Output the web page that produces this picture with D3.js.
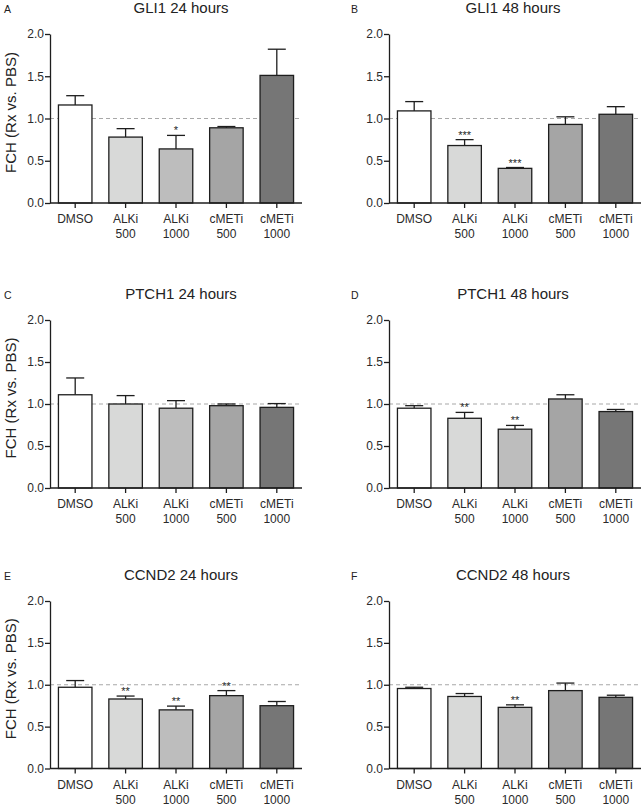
<!DOCTYPE html>
<html>
<head>
<meta charset="utf-8">
<script src="https://cdn.jsdelivr.net/npm/d3@7"></script>
<style>
  html, body { margin: 0; padding: 0; background: #ffffff; }
  svg { display: block; font-family: "Liberation Sans", Arial, sans-serif; }
</style>
</head>
<body>
<svg id="chart" width="642" height="805"></svg>
<script>
// ---------- DATA ----------
const categories = ["DMSO", "ALKi 500", "ALKi 1000", "cMETi 500", "cMETi 1000"];
const catLine1 = ["DMSO", "ALKi", "ALKi", "cMETi", "cMETi"];
const catLine2 = ["", "500", "1000", "500", "1000"];
const yTicks = [0, 0.5, 1.0, 1.5, 2.0];
const panelLetters = ["A", "B", "C", "D", "E", "F"];
const panelTitles = ["GLI1 24 hours", "GLI1 48 hours", "PTCH1 24 hours", "PTCH1 48 hours", "CCND2 24 hours", "CCND2 48 hours"];
const yLabel = "FCH (Rx vs. PBS)";

const gli1_24_mean  = [1.16, 0.78, 0.64, 0.89, 1.51];
const gli1_24_sem   = [0.11, 0.10, 0.16, 0.015, 0.31];
const gli1_24_sig   = ["", "", "*", "", ""];
const gli1_48_mean  = [1.09, 0.68, 0.41, 0.93, 1.05];
const gli1_48_sem   = [0.11, 0.07, 0.01, 0.09, 0.09];
const gli1_48_sig   = ["", "***", "***", "", ""];
const ptch1_24_mean = [1.11, 1.00, 0.95, 0.98, 0.96];
const ptch1_24_sem  = [0.20, 0.10, 0.09, 0.02, 0.045];
const ptch1_24_sig  = ["", "", "", "", ""];
const ptch1_48_mean = [0.95, 0.83, 0.70, 1.06, 0.91];
const ptch1_48_sem  = [0.03, 0.07, 0.045, 0.05, 0.025];
const ptch1_48_sig  = ["", "**", "**", "", ""];
const ccnd2_24_mean = [0.97, 0.83, 0.70, 0.87, 0.75];
const ccnd2_24_sem  = [0.08, 0.035, 0.045, 0.06, 0.05];
const ccnd2_24_sig  = ["", "**", "**", "**", ""];
const ccnd2_48_mean = [0.955, 0.86, 0.73, 0.93, 0.85];
const ccnd2_48_sem  = [0.015, 0.035, 0.03, 0.09, 0.025];
const ccnd2_48_sig  = ["", "", "**", "", ""];
const referenceLevel = 1.0;

// ---------- STYLE / LAYOUT ----------
const barFills = ["#ffffff", "#d8d9d8", "#bdbdbd", "#a5a5a5", "#767676"];
const ink = "#1e1e1e";
const colX = [[50, 302], [389, 641]];
const rowY = [[34, 203], [320, 488], [601, 768.5]];

const panels = [
  {mean: gli1_24_mean,  sem: gli1_24_sem,  sig: gli1_24_sig},
  {mean: gli1_48_mean,  sem: gli1_48_sem,  sig: gli1_48_sig},
  {mean: ptch1_24_mean, sem: ptch1_24_sem, sig: ptch1_24_sig},
  {mean: ptch1_48_mean, sem: ptch1_48_sem, sig: ptch1_48_sig},
  {mean: ccnd2_24_mean, sem: ccnd2_24_sem, sig: ccnd2_24_sig},
  {mean: ccnd2_48_mean, sem: ccnd2_48_sem, sig: ccnd2_48_sig}
];

const svg = d3.select("#chart");
svg.append("rect").attr("width", 642).attr("height", 805).attr("fill", "#fff");

panels.forEach((p, i) => {
  const col = i % 2, row = Math.floor(i / 2);
  const [x0, x1] = colX[col];
  const [yTop, yBot] = rowY[row];
  const g = svg.append("g");

  const x = d3.scaleBand().domain(categories).range([x0, x1])
    .paddingInner(0.335).paddingOuter(0.1675).align(0.5);
  const y = d3.scaleLinear().domain([0, 2]).range([yBot, yTop]);

  const rows = categories.map((c, k) => ({c, k, m: p.mean[k], e: p.sem[k], s: p.sig[k]}));

  // reference dashed line
  g.append("line")
    .attr("x1", x0).attr("x2", x1)
    .attr("y1", y(referenceLevel)).attr("y2", y(referenceLevel))
    .attr("stroke", "#a8a8a8").attr("stroke-width", 1.1)
    .attr("stroke-dasharray", "4,3");

  // error bars (upper only)
  const eb = g.selectAll(".eb").data(rows).enter().append("g");
  eb.append("line")
    .attr("x1", d => x(d.c) + x.bandwidth() / 2).attr("x2", d => x(d.c) + x.bandwidth() / 2)
    .attr("y1", d => y(d.m)).attr("y2", d => y(d.m + d.e))
    .attr("stroke", ink).attr("stroke-width", 1.3);
  eb.append("line")
    .attr("x1", d => x(d.c) + x.bandwidth() / 2 - 9).attr("x2", d => x(d.c) + x.bandwidth() / 2 + 9)
    .attr("y1", d => y(d.m + d.e)).attr("y2", d => y(d.m + d.e))
    .attr("stroke", ink).attr("stroke-width", 1.3);

  // bars
  g.selectAll(".bar").data(rows).enter().append("rect")
    .attr("x", d => x(d.c))
    .attr("y", d => y(d.m))
    .attr("width", x.bandwidth())
    .attr("height", d => y(0) - y(d.m))
    .attr("fill", d => barFills[d.k])
    .attr("stroke", ink).attr("stroke-width", 1.3);

  // significance stars
  g.selectAll(".sig").data(rows.filter(d => d.s)).enter().append("text")
    .attr("x", d => x(d.c) + x.bandwidth() / 2)
    .attr("y", d => y(d.m + d.e) - 1)
    .attr("text-anchor", "middle")
    .attr("font-size", 11).attr("fill", ink)
    .text(d => d.s);

  // y axis
  const ya = g.append("g").attr("transform", `translate(${x0},0)`)
    .call(d3.axisLeft(y).tickValues(yTicks).tickFormat(d3.format(".1f")).tickSize(5).tickSizeOuter(0).tickPadding(1));
  ya.select(".domain").attr("stroke", ink).attr("stroke-width", 1.3);
  ya.selectAll(".tick line").attr("stroke", ink).attr("stroke-width", 1.3);
  ya.selectAll(".tick text").attr("font-size", 12).attr("fill", "#2a2a2a")
    .attr("font-family", "Liberation Sans, Arial, sans-serif");

  // x axis
  const xa = g.append("g").attr("transform", `translate(0,${yBot})`)
    .call(d3.axisBottom(x).tickSize(5).tickSizeOuter(0).tickFormat(""));
  xa.select(".domain").attr("stroke", ink).attr("stroke-width", 1.3)
    .attr("d", `M${x0},0H${x1}`);
  xa.selectAll(".tick line").attr("stroke", ink).attr("stroke-width", 1.3);

  const lab = g.selectAll(".xl").data(rows).enter().append("text")
    .attr("text-anchor", "middle").attr("font-size", 12).attr("fill", "#2a2a2a");
  lab.append("tspan")
    .attr("x", d => x(d.c) + x.bandwidth() / 2).attr("y", yBot + 20)
    .text(d => catLine1[d.k]);
  lab.append("tspan")
    .attr("x", d => x(d.c) + x.bandwidth() / 2).attr("y", yBot + 35)
    .text(d => catLine2[d.k]);

  // title
  g.append("text")
    .attr("x", (x0 + x1) / 2 + (col === 0 ? 5 : -2)).attr("y", yTop - 21)
    .attr("text-anchor", "middle").attr("font-size", 15).attr("fill", "#222")
    .text(panelTitles[i]);

  // panel letter
  g.append("text")
    .attr("x", col === 0 ? 4 : 351).attr("y", yTop - 21)
    .attr("font-size", 10.5).attr("fill", "#222")
    .text(panelLetters[i]);

  // y label (left column only)
  if (col === 0) {
    g.append("text")
      .attr("transform", `translate(15.5,${(yTop + yBot) / 2 - 6}) rotate(-90)`)
      .attr("text-anchor", "middle").attr("font-size", 15).attr("fill", "#222")
      .text(yLabel);
  }
});
</script>
</body>
</html>
